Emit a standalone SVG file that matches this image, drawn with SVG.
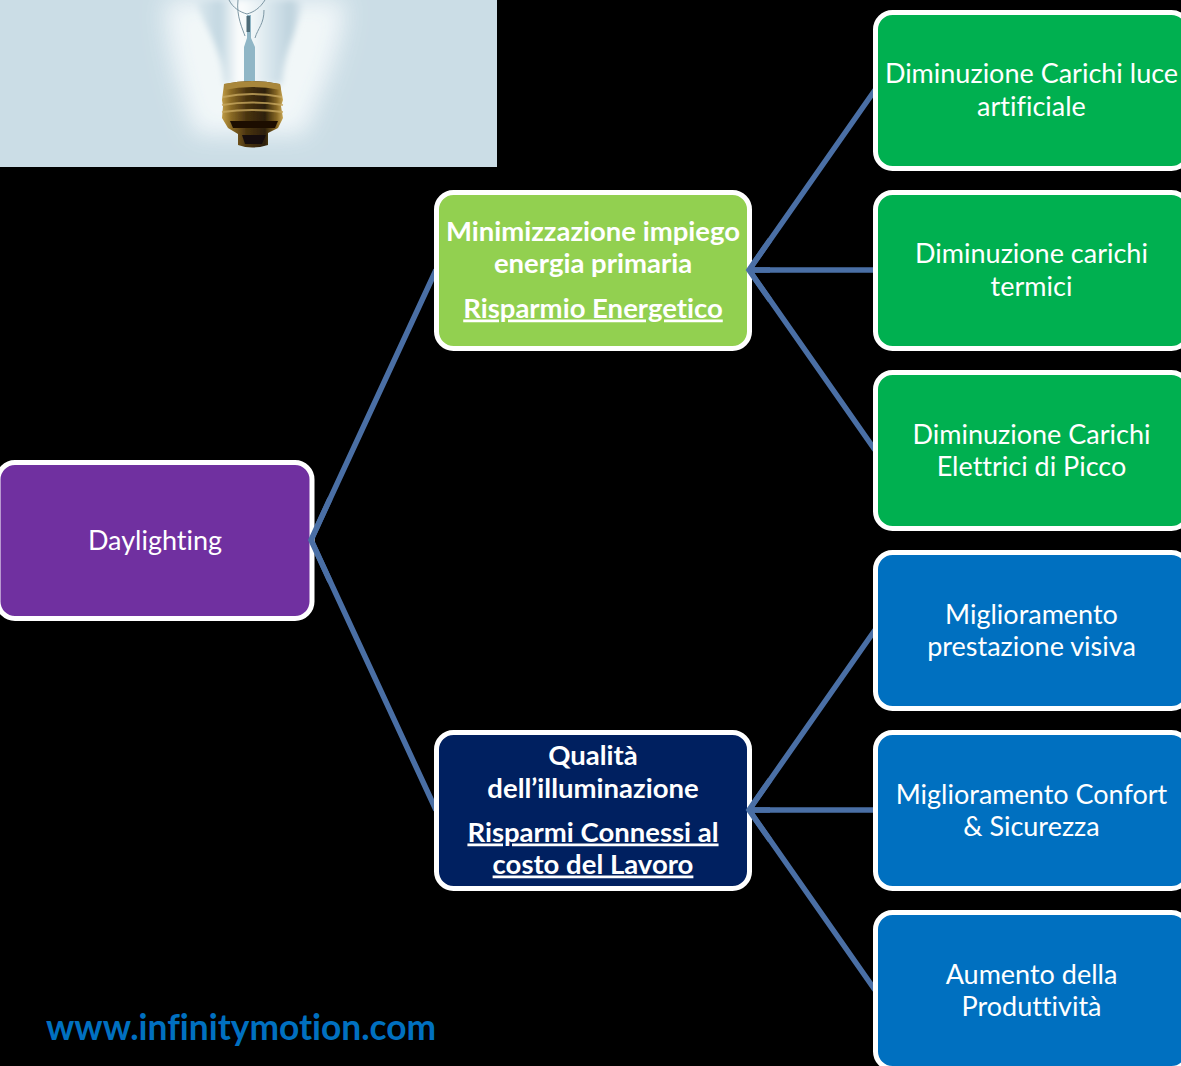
<svg xmlns="http://www.w3.org/2000/svg" width="1181" height="1066" viewBox="0 0 1181 1066">
<style>
.box{stroke:#fff;stroke-width:5}
.t{font-family:Lato,"Noto Sans",sans-serif;font-size:27px;fill:#fff;text-anchor:middle;font-variant-ligatures:none}
.b{font-weight:700;font-size:27.5px}
.u{text-decoration:underline}
.c{stroke:#4a6fa5;stroke-width:5.5;fill:none}
</style>
<defs>
<filter id="blur" x="-30%" y="-30%" width="160%" height="160%"><feGaussianBlur stdDeviation="12"/></filter>
<filter id="soft" x="-20%" y="-20%" width="140%" height="140%"><feGaussianBlur stdDeviation="3"/></filter>
<filter id="tiny" x="-10%" y="-10%" width="120%" height="120%"><feGaussianBlur stdDeviation=".6"/></filter>
<linearGradient id="glass" x1="0" x2="1" y1="0" y2="0">
<stop offset="0" stop-color="#dbe8ee"/><stop offset=".22" stop-color="#c2d7e1"/><stop offset=".4" stop-color="#fdfefe"/><stop offset=".52" stop-color="#f0f6f8"/><stop offset=".7" stop-color="#d5e4eb"/><stop offset=".88" stop-color="#bdd2dd"/><stop offset="1" stop-color="#e3edf2"/>
</linearGradient>
<linearGradient id="brass" x1="0" x2="1" y1="0" y2="0">
<stop offset="0" stop-color="#c09c45"/><stop offset=".15" stop-color="#8a6a25"/><stop offset=".4" stop-color="#4a3410"/><stop offset=".7" stop-color="#2d1f0a"/><stop offset=".9" stop-color="#8a6a25"/><stop offset="1" stop-color="#c9a755"/>
</linearGradient>
</defs>
<rect width="1181" height="1066" fill="#000"/>
<g id="picture">
<rect width="497" height="167" fill="#cbdde6"/>
<path d="M165 0H345C345 45 322 90 305 135H195C180 90 165 45 165 0Z" fill="#f6fafb" opacity=".9" filter="url(#blur)"/>
<path d="M196 0C204 28 222 45 224 84H282C283 55 298 28 304 0Z" fill="url(#glass)" filter="url(#soft)"/>
<path d="M244 82V47L247 38V15H251V38L255 47V82Z" fill="#90b6c6"/>
<path d="M229 0C233 8 240 12 247 14C254 12 260 8 265 0M238 0C236 16 243 30 245 36M264 10C264 24 258 28 255 38" stroke="#7d97a4" stroke-width="1" fill="none"/>
<rect x="246.500" y="16" width="3.500" height="16" fill="#4d6b78"/>
<g filter="url(#tiny)">
<path d="M224 84Q252 78 280 84L283 100L281 106L283 118L278 128L268 133V145Q252 150 238 145V134L228 128L222 118L223 106L222 100Z" fill="url(#brass)"/>
<path d="M224 84Q252 78 280 84L281 90Q252 84 224 90Z" fill="#a9873a"/>
<path d="M223 97Q252 91 282 97M222 105Q252 100 283 105M222 112Q252 108 283 112" stroke="#c7a85f" stroke-width="1.800" fill="none" opacity=".8"/>
<path d="M230 121H278L275 128H233Z" fill="#1a1104"/>
<path d="M242 135H266L262 144H245Z" fill="#17100a"/>
</g>
</g>
<g id="connectors" class="c">
<path d="M436 270L311 540L436 810"/>
<path d="M875 90L749 270L875 450M749 270H875"/>
<path d="M875 630L749 810L875 990M749 810H875"/>
</g>
<g id="node-root"><rect class="box" x="-2" y="462.500" width="314" height="156" rx="17" fill="#7030a0"/><text class="t" x="155" y="549.500">Daylighting</text></g>
<g id="node-energy"><rect class="box" x="436.500" y="192.500" width="313" height="156" rx="17" fill="#92d050"/>
<text class="t b" x="593" y="240.500">Minimizzazione impiego</text><text class="t b" x="593" y="272.500">energia primaria</text><text class="t b u" x="593" y="317.500">Risparmio Energetico</text></g>
<g id="node-quality"><rect class="box" x="436.500" y="732.500" width="313" height="156" rx="17" fill="#002060"/>
<text class="t b" x="593" y="764.500">Qualità</text><text class="t b" x="593" y="797.500">dell’illuminazione</text><text class="t b u" x="593" y="841.500">Risparmi Connessi al</text><text class="t b u" x="593" y="873.500">costo del Lavoro</text></g>
<g id="node-g1"><rect class="box" x="875.500" y="12.500" width="313" height="156" rx="17" fill="#00b050"/><text class="t" x="1031.500" y="82.500">Diminuzione Carichi luce</text><text class="t" x="1031.500" y="115.500">artificiale</text></g>
<g id="node-g2"><rect class="box" x="875.500" y="192.500" width="313" height="156" rx="17" fill="#00b050"/><text class="t" x="1031.500" y="262.500">Diminuzione carichi</text><text class="t" x="1031.500" y="295.500">termici</text></g>
<g id="node-g3"><rect class="box" x="875.500" y="372.500" width="313" height="156" rx="17" fill="#00b050"/><text class="t" x="1031.500" y="443.500">Diminuzione Carichi</text><text class="t" x="1031.500" y="475.500">Elettrici di Picco</text></g>
<g id="node-b1"><rect class="box" x="875.500" y="552.500" width="313" height="156" rx="17" fill="#0070c0"/><text class="t" x="1031.500" y="623.500">Miglioramento</text><text class="t" x="1031.500" y="655.500">prestazione visiva</text></g>
<g id="node-b2"><rect class="box" x="875.500" y="732.500" width="313" height="156" rx="17" fill="#0070c0"/><text class="t" x="1031.500" y="803.500">Miglioramento Confort</text><text class="t" x="1031.500" y="835.500">&amp; Sicurezza</text></g>
<g id="node-b3"><rect class="box" x="875.500" y="912.500" width="313" height="156" rx="17" fill="#0070c0"/><text class="t" x="1031.500" y="983.500">Aumento della</text><text class="t" x="1031.500" y="1015.500">Produttività</text></g>
<g id="apex" class="c">
<path d="M330 498.600L311 540L330 581.400"/>
<path d="M770 239.800L749 270L770 300.200M749 270H770"/>
<path d="M770 779.800L749 810L770 840.200M749 810H770"/>
</g>
<text x="46" y="1040" font-family="Lato,'Noto Sans',sans-serif" font-size="35.300px" font-weight="700" fill="#0070c0" style="font-variant-ligatures:none">www.infinitymotion.com</text>
</svg>
